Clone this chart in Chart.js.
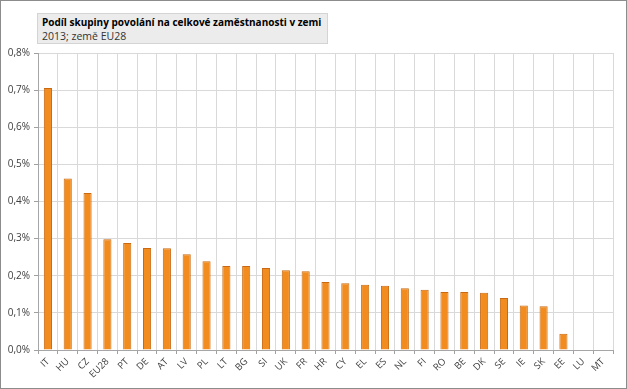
<!DOCTYPE html>
<html>
<head>
<meta charset="utf-8">
<script src="https://cdn.jsdelivr.net/npm/chart.js@4"></script>
<style>
  body { margin: 0; background: #fff; }
  #wrap { position: relative; width: 627px; height: 389px; }
  #titlebox {
    position: absolute; left: 37px; top: 13px; width: 289px; height: 29px;
    background: #ececec; border: 1px solid #d4d4d4;
    font-family: "Open Sans", sans-serif; color: #000;
  }
  #titlebox .t { position: absolute; left: 4px; top: 1px; font-size: 10px; font-weight: bold; white-space: nowrap; }
  #titlebox .s { position: absolute; left: 4px; top: 15px; font-size: 10.5px; color: #333; white-space: nowrap; }
</style>
</head>
<body>
<div id="wrap">
  <canvas id="chart" width="627" height="389"></canvas>
  <div id="titlebox">
    <div class="t">Podíl skupiny povolání na celkové zaměstnanosti v zemi</div>
    <div class="s">2013; země EU28</div>
  </div>
</div>
<script>
// zeme
const countries = ['IT','HU','CZ','EU28','PT','DE','AT','LV','PL','LT','BG','SI','UK','FR','HR',
  'CY','EL','ES','NL','FI','RO','BE','DK','SE','IE','SK','EE','LU','MT'];
// podil v %
const shares = [0.706, 0.462, 0.423, 0.298, 0.288, 0.275, 0.274, 0.258, 0.239, 0.226, 0.226, 0.221, 0.215, 0.212, 0.183,
  0.180, 0.176, 0.173, 0.166, 0.162, 0.156, 0.156, 0.154, 0.140, 0.120, 0.118, 0.044, 0, 0];
const yTicks = [0, 0.1, 0.2, 0.3, 0.4, 0.5, 0.6, 0.7, 0.8];

const frame = {
  id: 'frame',
  afterDraw(chart) {
    const ctx = chart.ctx;
    ctx.save();
    ctx.strokeStyle = '#8c8c8c';
    ctx.lineWidth = 1;
    ctx.strokeRect(0.5, 0.5, chart.width - 1, chart.height - 1);
    ctx.restore();
  }
};

new Chart(document.getElementById('chart'), {
  type: 'bar',
  data: {
    labels: countries,
    datasets: [{
      data: shares,
      backgroundColor: '#f28c1e',
      borderColor: '#c96a12',
      borderWidth: 1,
      categoryPercentage: 1,
      barPercentage: 0.41
    }]
  },
  options: {
    responsive: false,
    animation: false,
    layout: { padding: { left: 0, top: 53, right: 14, bottom: 0 } },
    plugins: { legend: { display: false }, tooltip: { enabled: false } },
    scales: {
      x: {
        grid: { offset: true, color: '#d9d9d9', tickColor: '#a0a0a0', tickLength: 4 },
        border: { color: '#a6a6a6' },
        ticks: {
          minRotation: 45, maxRotation: 45, autoSkip: false, padding: 2,
          color: '#404040', font: { family: 'Open Sans', size: 9.5 }
        },
        afterFit(scale) { scale.height = 39; }
      },
      y: {
        min: 0, max: 0.8,
        afterBuildTicks(scale) { scale.ticks = yTicks.map(v => ({ value: v })); },
        grid: { color: '#d9d9d9', tickColor: '#a0a0a0', tickLength: 4 },
        border: { color: '#a6a6a6' },
        ticks: {
          padding: 4, color: '#404040', font: { family: 'Open Sans', size: 10 },
          callback: v => v.toFixed(1).replace('.', ',') + '%'
        },
        afterFit(scale) { scale.width = 38; }
      }
    }
  },
  plugins: [frame]
});
</script>
</body>
</html>
